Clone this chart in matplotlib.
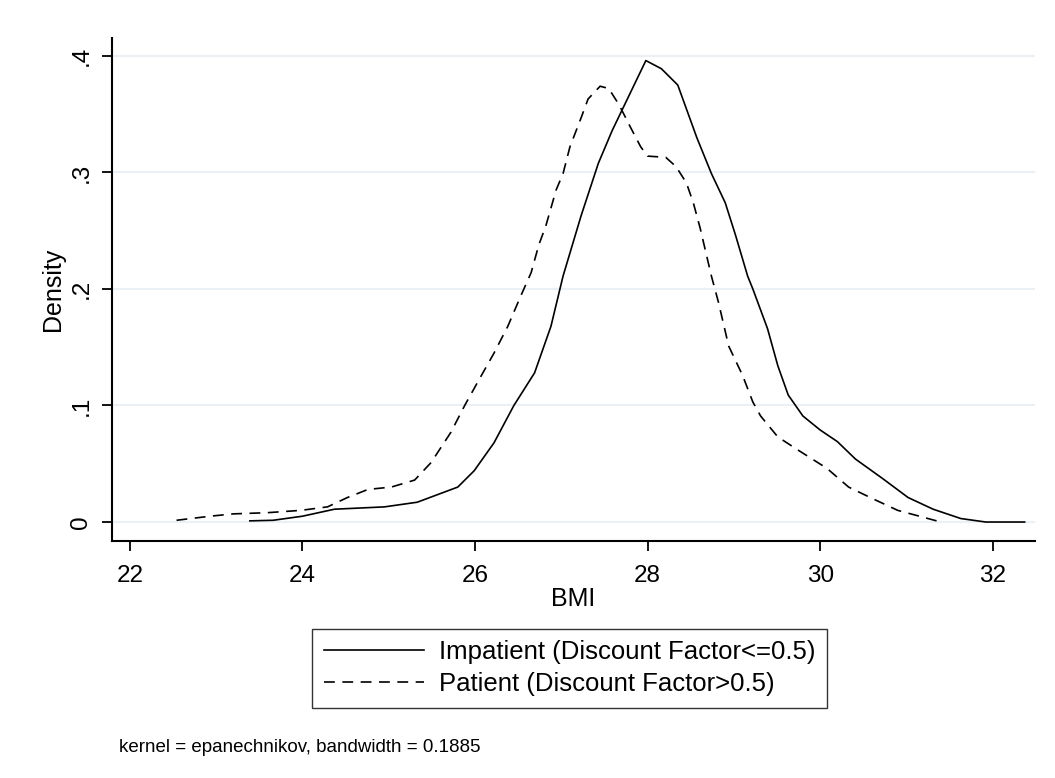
import matplotlib
matplotlib.use('Agg')
import matplotlib.pyplot as plt

plt.rcParams['font.family'] = ['Liberation Sans', 'DejaVu Sans']

# BMI density estimates
imp_x = [23.39, 23.66, 24.0, 24.37, 24.95, 25.33, 25.8, 25.99, 26.22, 26.45, 26.69, 26.88,
         27.02, 27.23, 27.43, 27.59, 27.72, 27.98, 28.16, 28.35, 28.57, 28.74, 28.9, 29.02,
         29.16, 29.22, 29.39, 29.51, 29.63, 29.8, 30.0, 30.2, 30.41, 30.73, 31.02, 31.31,
         31.63, 31.92, 32.37]
imp_y = [0.001, 0.0015, 0.005, 0.011, 0.013, 0.017, 0.03, 0.044, 0.068, 0.1, 0.128, 0.168,
         0.211, 0.263, 0.308, 0.336, 0.356, 0.396, 0.389, 0.375, 0.33, 0.299, 0.274, 0.246,
         0.211, 0.2, 0.166, 0.134, 0.109, 0.091, 0.079, 0.069, 0.054, 0.037, 0.021, 0.011,
         0.003, 0.0, 0.0]

pat_x = [22.54, 22.93, 23.2, 23.59, 23.98, 24.29, 24.52, 24.76, 25.03, 25.3, 25.49, 25.72,
         25.88, 26.03, 26.22, 26.38, 26.53, 26.65, 26.74, 26.82, 26.94, 27.02, 27.1, 27.23,
         27.31, 27.45, 27.55, 27.67, 27.8, 27.92, 28.0, 28.21, 28.33, 28.45, 28.53, 28.61,
         28.74, 28.82, 28.94, 29.1, 29.22, 29.31, 29.51, 29.76, 30.08, 30.33, 30.61, 30.9,
         31.35]
pat_y = [0.0015, 0.005, 0.007, 0.008, 0.01, 0.013, 0.021, 0.028, 0.03, 0.036, 0.051, 0.077,
         0.1, 0.12, 0.145, 0.168, 0.194, 0.214, 0.238, 0.254, 0.285, 0.299, 0.322, 0.347,
         0.363, 0.374, 0.372, 0.358, 0.339, 0.322, 0.314, 0.313, 0.305, 0.291, 0.274, 0.252,
         0.211, 0.189, 0.151, 0.126, 0.103, 0.091, 0.073, 0.061, 0.046, 0.03, 0.02, 0.01,
         0.001]

x_ticks = [22, 24, 26, 28, 30, 32]
y_ticks = [0, 0.1, 0.2, 0.3, 0.4]
y_labels = ['0', '.1', '.2', '.3', '.4']

fig = plt.figure(figsize=(10.55, 7.78), dpi=100)
ax = fig.add_axes([0.106, 0.3046, 0.875, 0.646])

for yt in y_ticks:
    ax.axhline(yt, color='#eaf0f3', lw=1.5, zorder=0)

ax.plot(imp_x, imp_y, color='black', lw=1.2, label='Impatient (Discount Factor<=0.5)')
ax.plot(pat_x, pat_y, color='black', lw=1.2, dashes=(6.5, 4.5), label='Patient (Discount Factor>0.5)')

ax.set_xlim(21.79, 32.49)
ax.set_ylim(-0.0163, 0.415)
ax.set_xticks(x_ticks)
ax.set_yticks(y_ticks)
ax.set_yticklabels(y_labels, rotation=90, va='center')
ax.tick_params(axis='both', labelsize=17.5, length=7, width=1.3, direction='out')
ax.tick_params(axis='x', pad=10)
ax.tick_params(axis='y', pad=7)

ax.spines['top'].set_visible(False)
ax.spines['right'].set_visible(False)
ax.spines['left'].set_linewidth(1.5)
ax.spines['bottom'].set_linewidth(1.5)

ax.set_xlabel('BMI', fontsize=18, labelpad=0)
ax.set_ylabel('Density', fontsize=18, labelpad=4)

leg = fig.legend(loc='center', bbox_to_anchor=(0.540, 0.141), fontsize=18.5, frameon=True,
                 fancybox=False, edgecolor='black', handlelength=3.9, borderpad=0.45,
                 labelspacing=0.3, handletextpad=0.6, borderaxespad=0)
leg.get_frame().set_linewidth(1.0)

fig.text(0.113, 0.034, 'kernel = epanechnikov, bandwidth = 0.1885', fontsize=13.5)

fig.savefig('out.png', dpi=100, facecolor='white')
